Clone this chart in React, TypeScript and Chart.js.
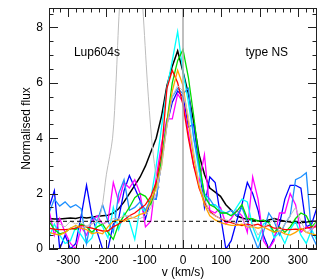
import React, { useEffect, useRef } from "react";
import { Chart, registerables } from "chart.js";
Chart.register(...registerables);

const velocities = [-350, -336, -322, -308, -294, -280, -266, -252, -238, -224, -210, -196, -182, -168, -154, -140, -126, -112, -98, -84, -70, -56, -42, -28, -14, 0, 14, 28, 42, 56, 70, 84, 98, 112, 126, 140, 154, 168, 182, 196, 210, 224, 238, 252, 266, 280, 294, 308, 322, 336, 350];

const fluxBlack = [1.1, 1.08, 1.08, 1.1, 1.12, 1.1, 1.15, 1.12, 1.15, 1.18, 1.2, 1.22, 1.3, 1.45, 1.7, 2.0, 2.3, 2.6,
  3.0, 3.5, 4.0, 4.8, 5.9, 6.6, 7.15, 6.4, 5.6, 4.6, 3.4, 2.7, 2.2, 2.05, 1.9,
  1.6, 1.4, 1.2, 1.12, 1.07, 1.05, 1.02, 1.0, 1.05, 1.1, 1.05, 1.0, 0.97, 0.95, 0.95, 0.97, 1.0, 1.0];
const fluxRed = [0.75, 0.72, 0.7, 0.7, 0.72, 0.75, 0.85, 0.8, 0.75, 0.7, 0.65, 0.65, 0.8, 0.9, 1.05, 1.2, 1.3, 1.45,
  1.6, 1.9, 2.4, 3.5, 5.8, 6.45, 6.0, 5.2, 4.0, 3.0, 2.2, 1.7, 1.35, 1.2, 1.1,
  1.0, 0.95, 0.9, 0.85, 0.9, 0.85, 0.9, 0.8, 0.85, 0.75, 0.75, 0.7, 0.7, 0.72, 0.7, 0.75, 0.8, 0.8];
const fluxOrange = [0.6, 0.55, 0.5, 0.6, 0.75, 0.85, 0.75, 0.7, 0.55, 0.6, 0.55, 0.8, 1.0, 1.05, 1.0, 1.1, 1.15, 1.25,
  1.3, 1.75, 2.2, 3.0, 4.5, 5.7, 6.45, 5.9, 4.6, 3.3, 2.3, 1.6, 1.2, 1.05, 0.95,
  0.9, 0.85, 0.85, 0.9, 0.8, 0.8, 0.75, 0.8, 0.7, 0.6, 0.65, 0.55, 0.5, 0.6, 0.75, 0.6, 0.55, 0.5];
const fluxGreen = [1.0, 0.7, 0.55, 0.6, 0.75, 0.7, 0.9, 0.8, 0.6, 0.8, 0.9, 0.6, 0.35, 0.9, 1.2, 1.5, 1.85, 2.0,
  1.9, 1.6, 2.3, 3.2, 4.6, 6.0, 6.8, 7.2, 6.2, 4.8, 3.2, 1.9, 1.6, 1.5, 1.3,
  1.3, 1.2, 1.35, 1.6, 1.1, 1.1, 1.0, 1.05, 0.95, 0.6, 0.8, 0.6, 0.8, 1.1, 1.3, 1.2, 0.8, 1.0];
const fluxCyan = [0.4, 0.9, 0.5, 0.2, 0.3, 0.8, 0.5, 0.2, 0.4, 1.0, 0.8, 0.4, 1.5, 0.7, 1.3, 1.0, 0.35, 1.5,
  1.35, 1.8, 3.0, 4.4, 5.8, 6.8, 7.85, 6.4, 5.3, 4.0, 2.8, 2.0, 1.6, 1.6, 1.4,
  1.3, 1.2, 1.5, 1.8, 1.7, 0.8, 0.3, 0.9, 1.0, 0.4, 0.6, 0.2, 0.7, 1.0, 0.5, 0.2, 0.7, 0.3];
const fluxSky = [1.3, 1.8, 1.55, 1.7, 1.5, 1.6, 1.45, 0.2, 1.2, 1.0, 1.6, 1.0, 0.6, 2.0, 2.5, 1.4, 1.5, 1.7,
  1.4, 1.8, 1.8, 3.2, 4.6, 5.5, 5.8, 5.6, 5.8, 4.0, 3.0, 2.0, 1.8, 1.5, 1.3,
  1.3, 1.4, 1.2, 1.5, 1.0, 0.5, 0.0, 0.6, 1.3, 1.0, 0.5, 0.9, 1.2, 2.5, 2.6, 2.75, 0.5, 0.1];
const fluxBlue = [1.5, 2.1, 0.0, 0.5, 0.0, 0.2, 1.2, 2.3, 1.2, 0.6, 0.0, 0.0, 0.9, 1.1, 2.1, 2.65, 2.2, 1.75,
  1.1, 1.8, 1.8, 3.2, 4.5, 5.3, 5.7, 5.5, 4.4, 4.5, 3.0, 1.5, 2.6, 2.4, 1.2,
  0.0, 0.3, 1.0, 1.6, 2.4, 2.0, 1.4, 0.5, 0.0, 0.4, 0.9, 1.8, 2.3, 2.3, 2.2, 0.8, 0.9, 1.5];
const fluxMagenta = [1.4, 0.5, 1.1, 0.6, 0.2, 0.0, 0.8, 0.5, 1.0, 1.2, 0.9, 1.0, 2.4, 1.7, 2.4, 2.2, 2.5, 2.0,
  0.8, 1.0, 2.6, 3.8, 4.7, 4.7, 5.6, 5.3, 4.2, 3.0, 2.4, 3.4, 1.4, 1.3, 1.5,
  0.9, 1.1, 1.4, 1.2, 0.6, 2.6, 1.8, 0.3, 0.0, 0.3, 1.3, 1.3, 2.0, 1.6, 0.6, 0.8, 0.7, 0.9];
const fluxGrayThin = [1.0, 1.0, 0.9, 0.8, 1.0, 0.9, 1.0, 0.8, 0.9, 1.0, 0.9, 1.0, 1.1, 1.1, 1.2, 1.2, 1.1, 1.1,
  1.2, 1.5, 2.0, 3.0, 4.4, 5.5, 5.9, 5.7, 4.8, 3.5, 2.4, 1.8, 1.3, 1.2, 1.1,
  1.05, 1.0, 0.9, 1.1, 0.8, 0.9, 0.5, 0.8, 0.9, 1.1, 0.6, 0.9, 1.2, 1.5, 1.0, 0.6, 0.7, 1.0];

const broadVelocities = [-260, -240, -225, -213, -200, -184, -175, -166, -150, -135, -120, -105, -93, -82, -72, -62];
const broadFlux = [0.8, 0.9, 1.0, 1.4, 2.7, 4.0, 6.0, 8.7, 11.5, 12.5, 11.5, 8.7, 6.0, 4.0, 2.8, 2.2];

const zeroLineX = [0, 0];
const zeroLineY = [0, 8.7];
const contLineX = [-350, 350];
const contLineY = [1, 1];

const xTicks = [-300, -200, -100, 0, 100, 200, 300];
const yTicks = [0, 2, 4, 6, 8];
const xRange = [-350, 350];
const yRange = [0, 8.7];
const starLabel = "Lup604s";
const typeLabel = "type NS";
const starLabelPos = [-285, 7.1];
const typeLabelPos = [163, 7.1];

const FONT = "'Liberation Sans', Arial, Helvetica, sans-serif";

const toPts = (xs: number[], ys: number[]) => xs.map((x, i) => ({ x, y: ys[i] }));

const framePlugin = {
  id: "frameTicks",
  afterDatasetsDraw(chart: any) {
    const { ctx, chartArea: a, scales } = chart;
    const xs = scales.x, ys = scales.y;
    ctx.save();
    ctx.strokeStyle = "#222";
    ctx.lineWidth = 1;
    ctx.strokeRect(a.left + 0.5, a.top + 0.5, a.right - a.left - 1, a.bottom - a.top - 1);
    ctx.beginPath();
    const major = 9, minor = 4.5;
    for (let v = -340; v <= 340; v += 20) {
      const px = Math.round(xs.getPixelForValue(v)) + 0.5;
      const len = v % 100 === 0 ? major : minor;
      ctx.moveTo(px, a.bottom); ctx.lineTo(px, a.bottom - len);
      ctx.moveTo(px, a.top); ctx.lineTo(px, a.top + len);
    }
    for (let k = 0; k <= 17; k++) {
      const v = k * 0.5;
      const py = Math.round(ys.getPixelForValue(v)) + 0.5;
      const len = k % 4 === 0 ? major : minor;
      ctx.moveTo(a.left, py); ctx.lineTo(a.left + len, py);
      ctx.moveTo(a.right, py); ctx.lineTo(a.right - len, py);
    }
    ctx.stroke();
    ctx.fillStyle = "#000";
    ctx.font = `12px ${FONT}`;
    ctx.textBaseline = "middle";
    ctx.textAlign = "left";
    ctx.fillText(starLabel, xs.getPixelForValue(starLabelPos[0]), ys.getPixelForValue(starLabelPos[1]));
    ctx.fillText(typeLabel, xs.getPixelForValue(typeLabelPos[0]), ys.getPixelForValue(typeLabelPos[1]));
    ctx.restore();
  },
};

export default function App() {
  const ref = useRef<HTMLCanvasElement | null>(null);
  useEffect(() => {
    document.body.style.margin = "0";
    const mk = (data: number[], color: string, width = 1.3) => ({
      data: toPts(velocities, data),
      borderColor: color,
      borderWidth: width,
      pointRadius: 0,
      tension: 0,
      fill: false,
    });
    const chart = new Chart(ref.current as HTMLCanvasElement, {
      type: "line",
      data: {
        datasets: [
          { data: toPts(zeroLineX, zeroLineY), borderColor: "#aaaaaa", borderWidth: 1.5, pointRadius: 0 },
          { data: toPts(contLineX, contLineY), borderColor: "#000", borderWidth: 1, borderDash: [4, 3], pointRadius: 0 },
          { data: toPts(broadVelocities, broadFlux), borderColor: "#bdbdbd", borderWidth: 1, pointRadius: 0, tension: 0.3 },
          mk(fluxGrayThin, "#c0c0c0", 1),
          mk(fluxOrange, "#ffa500"),
          mk(fluxRed, "#ff0000"),
          mk(fluxGreen, "#00dd00"),
          mk(fluxSky, "#1e90ff"),
          mk(fluxCyan, "#00ffff"),
          mk(fluxMagenta, "#ff00ff"),
          mk(fluxBlue, "#0000ff"),
          mk(fluxBlack, "#000000", 1.5),
        ] as any,
      },
      options: {
        animation: false,
        responsive: false,
        maintainAspectRatio: false,
        layout: { padding: { left: 15, right: 10, top: 8, bottom: 0 } },
        plugins: { legend: { display: false }, tooltip: { enabled: false } },
        scales: {
          x: {
            type: "linear",
            min: xRange[0],
            max: xRange[1],
            grid: { display: false, drawTicks: false },
            border: { display: false },
            afterBuildTicks: (s: any) => { s.ticks = xTicks.map((value) => ({ value })); },
            afterFit: (s: any) => { s.height = 31; s.paddingLeft = 0; s.paddingRight = 0; },
            ticks: { color: "#000", font: { family: FONT, size: 12 }, padding: 4, maxRotation: 0 },
            title: { display: true, text: "v (km/s)", color: "#000", font: { family: FONT, size: 12 }, padding: { top: 0, bottom: 0 } },
          },
          y: {
            type: "linear",
            min: yRange[0],
            max: yRange[1],
            grid: { display: false, drawTicks: false },
            border: { display: false },
            afterBuildTicks: (s: any) => { s.ticks = yTicks.map((value) => ({ value })); },
            afterFit: (s: any) => { s.width = 34; s.paddingTop = 0; s.paddingBottom = 0; },
            ticks: { color: "#000", font: { family: FONT, size: 12 }, padding: 6 },
            title: { display: true, text: "Normalised flux", color: "#000", font: { family: FONT, size: 12 }, padding: { top: 4, bottom: 0 } },
          },
        },
      } as any,
      plugins: [framePlugin],
    });
    return () => chart.destroy();
  }, []);
  return (
    <div style={{ width: 327, height: 280 }}>
      <canvas ref={ref} width={327} height={280} style={{ display: "block" }} />
    </div>
  );
}
